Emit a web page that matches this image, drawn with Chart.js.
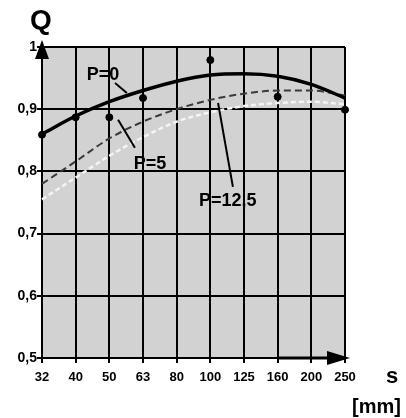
<!DOCTYPE html>
<html>
<head>
<meta charset="utf-8">
<script src="https://cdn.jsdelivr.net/npm/chart.js@4"></script>
<style>
html,body{margin:0;padding:0;background:#fff;}
canvas{display:block;}
</style>
</head>
<body>
<canvas id="c" width="406" height="418"></canvas>
<script>
// ---- data ----
const categories = ['32','40','50','63','80','100','125','160','200','250'];
const seriesP0   = [0.860, 0.889, 0.912, 0.930, 0.945, 0.955, 0.957, 0.953, 0.940, 0.918];
const seriesP5   = [0.780, 0.816, 0.853, 0.880, 0.900, 0.915, 0.925, 0.930, 0.930, 0.922];
const seriesP125 = [0.755, 0.790, 0.825, 0.855, 0.880, 0.895, 0.905, 0.910, 0.912, 0.908];
const measuredX  = ['32','40','50','63','100','160','250'];
const measuredY  = [0.859, 0.887, 0.887, 0.918, 0.979, 0.920, 0.899];
const yTicks     = [0.5, 0.6, 0.7, 0.8, 0.9, 1];
const seriesNames = ['P=0', 'P=5', 'P=12,5'];

// label placement (fractional category index, value)
const labelPos = [
  {text: seriesNames[0], x: 1.81, y: 0.955, lx1: 2.17, ly1: 0.942, lx2: 2.52, ly2: 0.926},
  {text: seriesNames[1], x: 3.21, y: 0.812, lx1: 2.26, ly1: 0.883, lx2: 2.76, ly2: 0.838},
  {text: seriesNames[2], x: 5.52, y: 0.752, lx1: 5.23, ly1: 0.910, lx2: 5.67, ly2: 0.775}
];

const measured = measuredX.map((x, i) => ({x: x, y: measuredY[i]}));
const FONT = '"Liberation Sans", Arial, sans-serif';

const decor = {
  id: 'decor',
  beforeDraw(chart) {
    const {ctx, chartArea: a} = chart;
    ctx.save();
    ctx.fillStyle = '#d2d2d2';
    ctx.fillRect(a.left, a.top, a.right - a.left, a.bottom - a.top);
    ctx.restore();
  },
  afterDraw(chart) {
    const {ctx, chartArea: a, scales} = chart;
    const xs = scales.x, ys = scales.y;
    ctx.save();
    ctx.fillStyle = '#000';
    ctx.strokeStyle = '#000';
    // y arrow
    ctx.beginPath();
    ctx.moveTo(a.left, a.top - 7);
    ctx.lineTo(a.left - 7, a.top + 12);
    ctx.lineTo(a.left + 7, a.top + 12);
    ctx.closePath();
    ctx.fill();
    // x arrow
    ctx.lineWidth = 3;
    ctx.beginPath();
    ctx.moveTo(xs.getPixelForValue(7), a.bottom);
    ctx.lineTo(a.right, a.bottom);
    ctx.stroke();
    ctx.beginPath();
    ctx.moveTo(a.right + 5, a.bottom);
    ctx.lineTo(a.right - 18, a.bottom - 7);
    ctx.lineTo(a.right - 18, a.bottom + 7);
    ctx.closePath();
    ctx.fill();
    // axis titles
    ctx.textBaseline = 'alphabetic';
    ctx.textAlign = 'left';
    ctx.font = 'bold 28px ' + FONT;
    ctx.fillText('Q', 30, 29);
    ctx.font = 'bold 22px ' + FONT;
    ctx.fillText('s', 386, 383);
    ctx.font = 'bold 20px ' + FONT;
    ctx.fillText('[mm]', 352, 413);
    // series labels and leaders
    ctx.font = 'bold 18px ' + FONT;
    ctx.textAlign = 'center';
    ctx.textBaseline = 'middle';
    ctx.lineWidth = 2;
    labelPos.forEach(l => {
      ctx.fillText(l.text, xs.getPixelForValue(l.x), ys.getPixelForValue(l.y));
      ctx.beginPath();
      ctx.moveTo(xs.getPixelForValue(l.lx1), ys.getPixelForValue(l.ly1));
      ctx.lineTo(xs.getPixelForValue(l.lx2), ys.getPixelForValue(l.ly2));
      ctx.stroke();
    });
    ctx.restore();
  }
};

new Chart(document.getElementById('c'), {
  type: 'line',
  data: {
    labels: categories,
    datasets: [
      {label: seriesNames[0], data: seriesP0, borderColor: '#000', borderWidth: 3.5,
       pointRadius: 0, cubicInterpolationMode: 'monotone'},
      {label: seriesNames[1], data: seriesP5, borderColor: '#3a3a3a', borderWidth: 2,
       borderDash: [7, 4], pointRadius: 0, cubicInterpolationMode: 'monotone'},
      {label: seriesNames[2], data: seriesP125, borderColor: '#f4f4f4', borderWidth: 2.5,
       borderDash: [5, 3], pointRadius: 0, cubicInterpolationMode: 'monotone'},
      {label: 'measured', data: measured, showLine: false, pointRadius: 3.5,
       pointBackgroundColor: '#000', pointBorderColor: '#000'}
    ]
  },
  options: {
    responsive: false,
    animation: false,
    layout: {padding: {top: 47, right: 61, left: 0, bottom: 0}},
    plugins: {legend: {display: false}, tooltip: {enabled: false}, title: {display: false}},
    scales: {
      x: {
        grid: {color: '#000', lineWidth: 2, tickLength: 5},
        border: {color: '#000', width: 2},
        ticks: {color: '#000', padding: 7, maxRotation: 0, autoSkip: false,
                font: {family: FONT, size: 13, weight: 'bold'}},
        afterFit(s) { s.height = 60; }
      },
      y: {
        min: 0.5, max: 1,
        afterBuildTicks(s) { s.ticks = yTicks.map(v => ({value: v})); },
        grid: {color: '#000', lineWidth: 2, tickLength: 5},
        border: {color: '#000', width: 2},
        ticks: {color: '#000', padding: 0,
                font: {family: FONT, size: 14, weight: 'bold'},
                callback: v => (v === 1 ? '1' : v.toFixed(1).replace('.', ','))},
        afterFit(s) { s.width = 42; }
      }
    }
  },
  plugins: [decor]
});
</script>
</body>
</html>
